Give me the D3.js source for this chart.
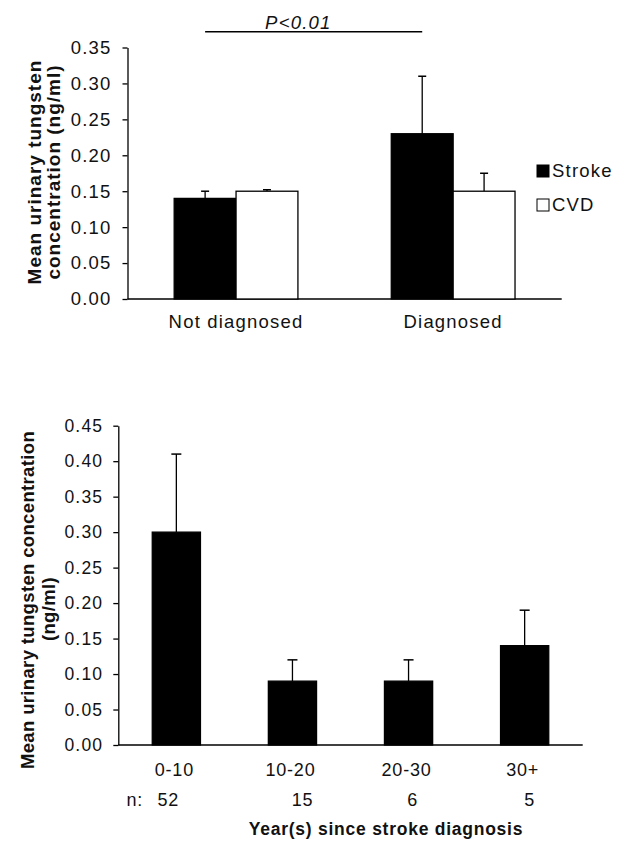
<!DOCTYPE html>
<html>
<head>
<meta charset="utf-8">
<script src="https://cdn.jsdelivr.net/npm/d3@7"></script>
<style>
  body { margin: 0; background: #fff; }
  svg { display: block; font-family: "Liberation Sans", Arial, sans-serif; }
  .tick text { letter-spacing: 1.2px; }
</style>
</head>
<body>
<svg id="chart" width="623" height="841"></svg>
<script>
var svg = d3.select("#chart");

// top panel data
var groups = ["Not diagnosed", "Diagnosed"];
var series = ["Stroke", "CVD"];
var seriesFill = ["#000", "#fff"];
var strokeMean = [0.14, 0.23];
var strokeUpper = [0.15, 0.31];
var cvdMean = [0.15, 0.15];
var cvdUpper = [0.152, 0.175];
var topTicks = [0, 0.05, 0.10, 0.15, 0.20, 0.25, 0.30, 0.35];

// bottom panel data
var years = ["0-10", "10-20", "20-30", "30+"];
var yearMean = [0.30, 0.09, 0.09, 0.14];
var yearUpper = [0.41, 0.12, 0.12, 0.19];
var yearN = ["52", "15", "6", "5"];
var bottomTicks = [0, 0.05, 0.10, 0.15, 0.20, 0.25, 0.30, 0.35, 0.40, 0.45];

var fmt = d3.format(".2f");

// ---------- top chart ----------
var x0 = d3.scaleBand().domain(groups).range([127.5, 561.7])
  .paddingInner(0.43).paddingOuter(0.215);
var x1 = d3.scaleBand().domain(series).range([0, x0.bandwidth()]);
var yTop = d3.scaleLinear().domain([0, 0.35]).range([299, 47.5]);

var topAxis = svg.append("g")
  .attr("transform", "translate(127.5,0)")
  .call(d3.axisLeft(yTop).tickValues(topTicks).tickFormat(fmt)
    .tickSize(5).tickSizeOuter(0).tickPadding(11));
topAxis.selectAll("text").attr("font-size", 18.5).attr("fill", "#111");
topAxis.selectAll("path, line").attr("stroke", "#000").attr("stroke-width", 1.3);

svg.append("line")
  .attr("x1", 127.5).attr("x2", 561.7)
  .attr("y1", yTop(0)).attr("y2", yTop(0))
  .attr("stroke", "#000").attr("stroke-width", 1.5);

var topRows = groups.map(function(g, i) {
  return [
    {group: g, s: "Stroke", v: strokeMean[i], up: strokeUpper[i], fill: seriesFill[0]},
    {group: g, s: "CVD", v: cvdMean[i], up: cvdUpper[i], fill: seriesFill[1]}
  ];
});
var flatTop = [].concat.apply([], topRows);

svg.append("g").selectAll("line")
  .data(flatTop).enter().append("line")
    .attr("x1", function(d) { return x0(d.group) + x1(d.s) + x1.bandwidth() / 2; })
    .attr("x2", function(d) { return x0(d.group) + x1(d.s) + x1.bandwidth() / 2; })
    .attr("y1", function(d) { return yTop(d.v); })
    .attr("y2", function(d) { return yTop(d.up); })
    .attr("stroke", "#000").attr("stroke-width", 1.3);
svg.append("g").selectAll("line")
  .data(flatTop).enter().append("line")
    .attr("x1", function(d) { return x0(d.group) + x1(d.s) + x1.bandwidth() / 2 - 4; })
    .attr("x2", function(d) { return x0(d.group) + x1(d.s) + x1.bandwidth() / 2 + 4; })
    .attr("y1", function(d) { return yTop(d.up); })
    .attr("y2", function(d) { return yTop(d.up); })
    .attr("stroke", "#000").attr("stroke-width", 1.5);

svg.append("g").selectAll("rect")
  .data(flatTop).enter().append("rect")
    .attr("x", function(d) { return x0(d.group) + x1(d.s); })
    .attr("y", function(d) { return yTop(d.v); })
    .attr("width", x1.bandwidth())
    .attr("height", function(d) { return yTop(0) - yTop(d.v); })
    .attr("fill", function(d) { return d.fill; })
    .attr("stroke", "#000").attr("stroke-width", 1.3);

svg.append("g").selectAll("text")
  .data(groups).enter().append("text")
    .attr("x", function(d) { return x0(d) + x0.bandwidth() / 2; })
    .attr("y", 328)
    .attr("text-anchor", "middle")
    .attr("font-size", 18.5)
    .attr("letter-spacing", 1.2)
    .attr("fill", "#111")
    .text(function(d) { return d; });

// significance line between the two stroke bars
var sigA = x0(groups[0]) + x1("Stroke") + x1.bandwidth() / 2;
var sigB = x0(groups[1]) + x1("Stroke") + x1.bandwidth() / 2;
svg.append("line")
  .attr("x1", sigA).attr("x2", sigB).attr("y1", 31.7).attr("y2", 31.7)
  .attr("stroke", "#000").attr("stroke-width", 1.5);
svg.append("text")
  .attr("x", sigA + 60).attr("y", 29)
  .attr("font-size", 18.5).attr("font-style", "italic")
  .attr("letter-spacing", 1.2).attr("fill", "#111")
  .text("P<0.01");

// legend
var legend = svg.append("g").selectAll("g")
  .data(series).enter().append("g")
    .attr("transform", function(d, i) { return "translate(537," + (165 + i * 34) + ")"; });
legend.append("rect")
  .attr("width", 12).attr("height", 12)
  .attr("fill", function(d, i) { return seriesFill[i]; })
  .attr("stroke", "#000").attr("stroke-width", 1);
legend.append("text")
  .attr("x", 15).attr("y", 12)
  .attr("font-size", 18.5).attr("letter-spacing", 1.2).attr("fill", "#111")
  .text(function(d) { return d; });

// y title
var topTitle = svg.append("text")
  .attr("transform", "translate(0,172) rotate(-90)")
  .attr("text-anchor", "middle")
  .attr("font-size", 19).attr("font-weight", "bold")
  .attr("letter-spacing", 1).attr("fill", "#111");
topTitle.append("tspan").attr("x", 0).attr("y", 41).text("Mean urinary tungsten");
topTitle.append("tspan").attr("x", 0).attr("y", 60).text("concentration (ng/ml)");

// ---------- bottom chart ----------
var xb = d3.scaleBand().domain(years).range([118.3, 582.7])
  .paddingInner(0.585).paddingOuter(0.2925);
var yBot = d3.scaleLinear().domain([0, 0.45]).range([745, 425.7]);

var botAxis = svg.append("g")
  .attr("transform", "translate(118.3,0)")
  .call(d3.axisLeft(yBot).tickValues(bottomTicks).tickFormat(fmt)
    .tickSize(5).tickSizeOuter(0).tickPadding(10));
botAxis.selectAll("text").attr("font-size", 17.5).attr("fill", "#111");
botAxis.selectAll("path, line").attr("stroke", "#000").attr("stroke-width", 1.3);

svg.append("line")
  .attr("x1", 118.3).attr("x2", 582.7)
  .attr("y1", yBot(0)).attr("y2", yBot(0))
  .attr("stroke", "#000").attr("stroke-width", 1.5);

var botData = years.map(function(y, i) {
  return {year: y, v: yearMean[i], up: yearUpper[i], n: yearN[i]};
});

svg.append("g").selectAll("line")
  .data(botData).enter().append("line")
    .attr("x1", function(d) { return xb(d.year) + xb.bandwidth() / 2; })
    .attr("x2", function(d) { return xb(d.year) + xb.bandwidth() / 2; })
    .attr("y1", function(d) { return yBot(d.v); })
    .attr("y2", function(d) { return yBot(d.up); })
    .attr("stroke", "#000").attr("stroke-width", 1.3);
svg.append("g").selectAll("line")
  .data(botData).enter().append("line")
    .attr("x1", function(d) { return xb(d.year) + xb.bandwidth() / 2 - 5; })
    .attr("x2", function(d) { return xb(d.year) + xb.bandwidth() / 2 + 5; })
    .attr("y1", function(d) { return yBot(d.up); })
    .attr("y2", function(d) { return yBot(d.up); })
    .attr("stroke", "#000").attr("stroke-width", 1.5);

svg.append("g").selectAll("rect")
  .data(botData).enter().append("rect")
    .attr("x", function(d) { return xb(d.year); })
    .attr("y", function(d) { return yBot(d.v); })
    .attr("width", xb.bandwidth())
    .attr("height", function(d) { return yBot(0) - yBot(d.v); })
    .attr("fill", "#000")
    .attr("stroke", "#000").attr("stroke-width", 1.3);

svg.append("g").selectAll("text")
  .data(botData).enter().append("text")
    .attr("x", function(d) { return xb(d.year) + xb.bandwidth() / 2 - 2; })
    .attr("y", 776)
    .attr("text-anchor", "middle")
    .attr("font-size", 18).attr("letter-spacing", 0.8).attr("fill", "#111")
    .text(function(d) { return d.year; });

// sample sizes sit a little off the bar centres, like tab stops in the original
var nShift = [-8, 10, 4, 5];
svg.append("text")
  .attr("x", 126.5).attr("y", 806)
  .attr("font-size", 18).attr("letter-spacing", 0.8).attr("fill", "#111")
  .text("n:");
svg.append("g").selectAll("text")
  .data(botData).enter().append("text")
    .attr("x", function(d, i) { return xb(d.year) + xb.bandwidth() / 2 + nShift[i]; })
    .attr("y", 806)
    .attr("text-anchor", "middle")
    .attr("font-size", 18).attr("letter-spacing", 0.8).attr("fill", "#111")
    .text(function(d) { return d.n; });

svg.append("text")
  .attr("x", 386).attr("y", 835)
  .attr("text-anchor", "middle")
  .attr("font-size", 17.5).attr("font-weight", "bold")
  .attr("letter-spacing", 0.75).attr("fill", "#111")
  .text("Year(s) since stroke diagnosis");

var botTitle = svg.append("text")
  .attr("transform", "translate(0,600) rotate(-90)")
  .attr("text-anchor", "middle")
  .attr("font-size", 18.5).attr("font-weight", "bold")
  .attr("letter-spacing", 0.35).attr("fill", "#111");
botTitle.append("tspan").attr("x", 0).attr("y", 34).text("Mean urinary tungsten concentration");
botTitle.append("tspan").attr("x", -9).attr("y", 55).text("(ng/ml)");
</script>
</body>
</html>
